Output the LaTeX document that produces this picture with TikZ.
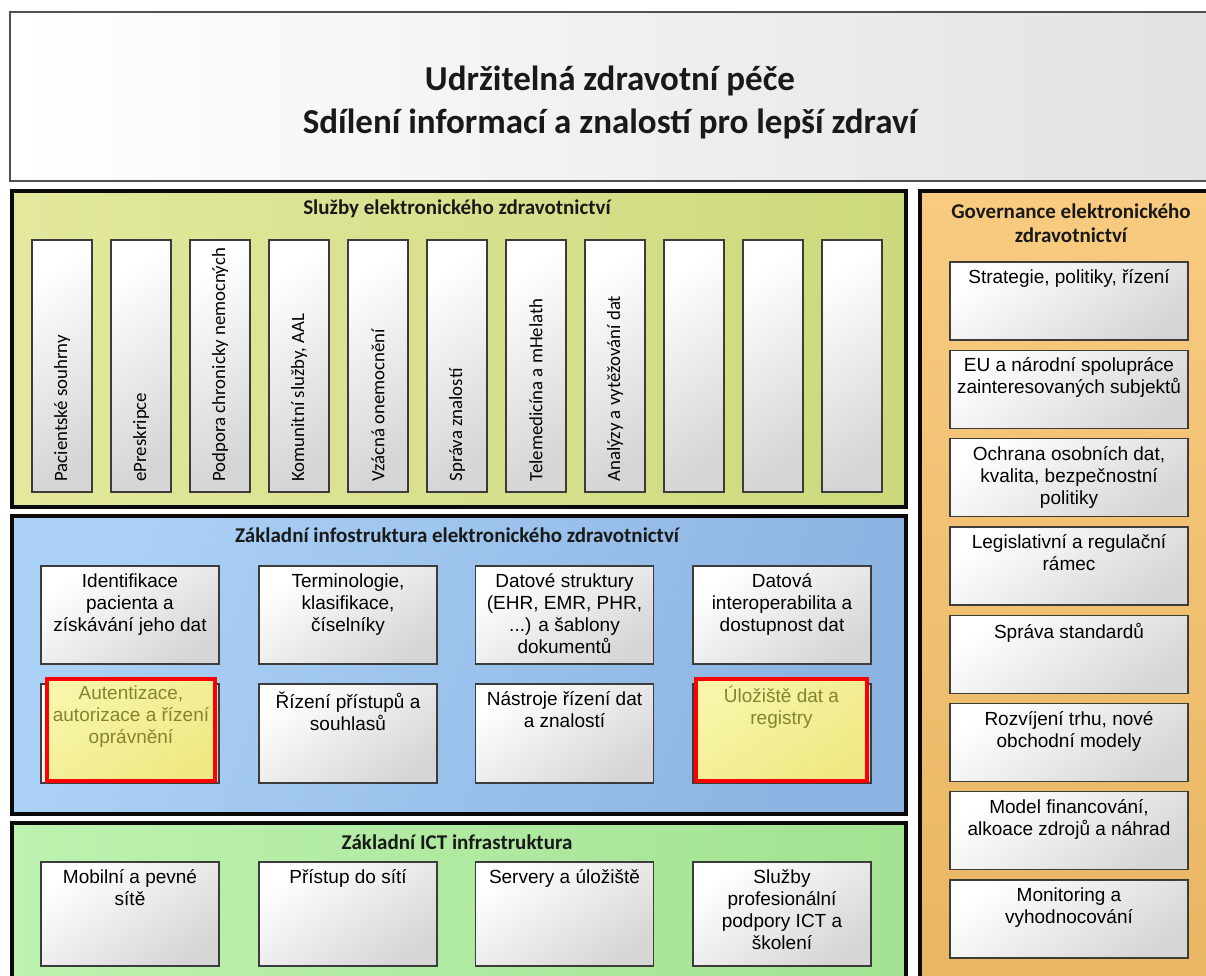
\documentclass[tikz,border=0pt]{standalone}
\usepackage{fontspec}
\setmainfont{Liberation Sans}
\newfontfamily\calfont{Carlito}
\definecolor{frameline}{HTML}{0A0A0A}
\definecolor{boxline}{HTML}{3C3C3C}
\definecolor{boxgrey}{HTML}{D6D6D6}
\definecolor{srvA}{HTML}{E3E89E}
\definecolor{srvB}{HTML}{CDD97C}
\definecolor{infA}{HTML}{ABD1F6}
\definecolor{infB}{HTML}{8CB4E2}
\definecolor{ictA}{HTML}{BDF2B0}
\definecolor{ictB}{HTML}{A2E291}
\definecolor{govA}{HTML}{F8CB80}
\definecolor{govB}{HTML}{E8B562}
\definecolor{hlA}{HTML}{F8F5A8}
\definecolor{hlB}{HTML}{EEE984}
\definecolor{hltext}{HTML}{85832F}
\definecolor{titleB}{HTML}{E2E2E2}
\begin{document}
\begin{tikzpicture}[x=1pt,y=-1pt,
  section/.style={draw=frameline, line width=4.5pt},
  ibox/.style={draw=boxline, line width=1.3pt, top color=white, bottom color=boxgrey,
    shading angle=35, inner sep=0pt},
  hlbox/.style={draw=red, line width=4pt, top color=hlA, bottom color=hlB,
    shading angle=35, inner sep=0pt},
  itext/.style={font=\fontsize{19}{22}\selectfont, align=center, anchor=north, inner sep=0pt},
  vtext/.style={font=\calfont\fontsize{18.8}{22}\selectfont, rotate=90, anchor=west, inner sep=0pt},
  head/.style={font=\calfont\bfseries\fontsize{21}{24}\selectfont, align=center, inner sep=0pt, text=black!90}
]
\clip (0,0) rectangle (1206,976);
\fill[white] (0,0) rectangle (1206,976);

% title banner
\node[draw=boxline!90, line width=1.3pt, left color=white, right color=titleB,
  minimum width=1200pt, minimum height=169pt, inner sep=0pt] (banner) at (610,96.5) {};
\node[font=\calfont\bfseries\fontsize{35}{43}\selectfont, align=center, text=black!90]
  (bannertext) at (610,102) {Udržitelná zdravotní péče\\Sdílení informací a znalostí pro lepší zdraví};

% eHealth services
\node[section, left color=srvA, right color=srvB, minimum width=894pt, minimum height=316pt,
  inner sep=0pt] (services) at (459,349) {};
\node[head] (serviceshead) at (457,209) {Služby elektronického zdravotnictví};
\foreach \i/\t in {0/Pacientské souhrny, 1/ePreskripce, 2/Podpora chronicky nemocných,
    3/{Komunitní služby, AAL}, 4/Vzácná onemocnění, 5/Správa znalostí,
    6/Telemedicína a mHelath, 7/Analýzy a vytěžování dat, 8/, 9/, 10/} {
  \node[ibox, minimum width=60pt, minimum height=252pt] (svc\i) at (62+79*\i,366) {};
  \node[vtext] (svctext\i) at ([yshift=11pt]svc\i.south) {\t};
}

% eHealth infrastructure
\node[section, left color=infA, right color=infB, shading angle=70, minimum width=894pt,
  minimum height=298pt, inner sep=0pt] (infra) at (459,665) {};
\node[head] (infrahead) at (457,535) {Základní infostruktura elektronického zdravotnictví};
\foreach \c/\x in {1/130,2/348,3/564.5,4/782} {
  \node[ibox, minimum width=178pt, minimum height=98pt] (inA\c) at (\x,615) {};
  \node[ibox, minimum width=178pt, minimum height=99pt] (inB\c) at (\x,733.5) {};
}
\node[hlbox, minimum width=168pt, minimum height=102pt] (hl1) at (131,730) {};
\node[hlbox, minimum width=171pt, minimum height=102pt] (hl4) at (781.5,730) {};
\node[itext] (tA1) at ([yshift=-8pt]inA1.north) {Identifikace\\pacienta a\\získávání jeho dat};
\node[itext] (tA2) at ([yshift=-8pt]inA2.north) {Terminologie,\\klasifikace,\\číselníky};
\node[itext] (tA3) at ([yshift=-8pt]inA3.north) {Datové struktury\\(EHR, EMR, PHR,\\...) a šablony\\dokumentů};
\node[itext] (tA4) at ([yshift=-8pt]inA4.north) {Datová\\interoperabilita a\\dostupnost dat};
\node[itext, text=hltext] (tB1) at ([yshift=-9pt]hl1.north) {Autentizace,\\autorizace a řízení\\oprávnění};
\node[itext] (tB2) at ([yshift=-8pt]inB2.north) {Řízení přístupů a\\souhlasů};
\node[itext] (tB3) at ([yshift=-8pt]inB3.north) {Nástroje řízení dat\\a znalostí};
\node[itext, text=hltext] (tB4) at ([yshift=-9pt]hl4.north) {Úložiště dat a\\registry};

% ICT infrastructure
\node[section, left color=ictA, right color=ictB, minimum width=894pt, minimum height=180pt,
  inner sep=0pt] (ict) at (459,913) {};
\node[head] (icthead) at (457,842) {Základní ICT infrastruktura};
\foreach \c/\x/\t in {1/130/{Mobilní a pevné\\sítě}, 2/348/Přístup do sítí,
    3/564.5/Servery a úložiště, 4/782/{Služby\\profesionální\\podpory ICT a\\školení}} {
  \node[ibox, minimum width=178pt, minimum height=104pt] (ict\c) at (\x,914) {};
  \node[itext] (icttext\c) at ([yshift=-8pt]ict\c.north) {\t};
}

% governance
\node[section, top color=govA, bottom color=govB, minimum width=292pt, minimum height=810pt,
  inner sep=0pt] (gov) at (1066,596) {};
\node[head] (govhead) at (1071,223) {Governance elektronického\\zdravotnictví};
\foreach \i/\t in {0/{Strategie, politiky, řízení}, 1/{EU a národní spolupráce\\zainteresovaných subjektů},
    2/{Ochrana osobních dat,\\kvalita, bezpečnostní\\politiky}, 3/{Legislativní a regulační\\rámec},
    4/Správa standardů, 5/{Rozvíjení trhu, nové\\obchodní modely},
    6/{Model financování,\\alkoace zdrojů a náhrad}, 7/{Monitoring a\\vyhodnocování}} {
  \node[ibox, minimum width=238pt, minimum height=78pt] (gv\i) at (1069,301+88.3*\i) {};
  \node[itext] (gvtext\i) at ([yshift=-8pt]gv\i.north) {\t};
}
\end{tikzpicture}
\end{document}
